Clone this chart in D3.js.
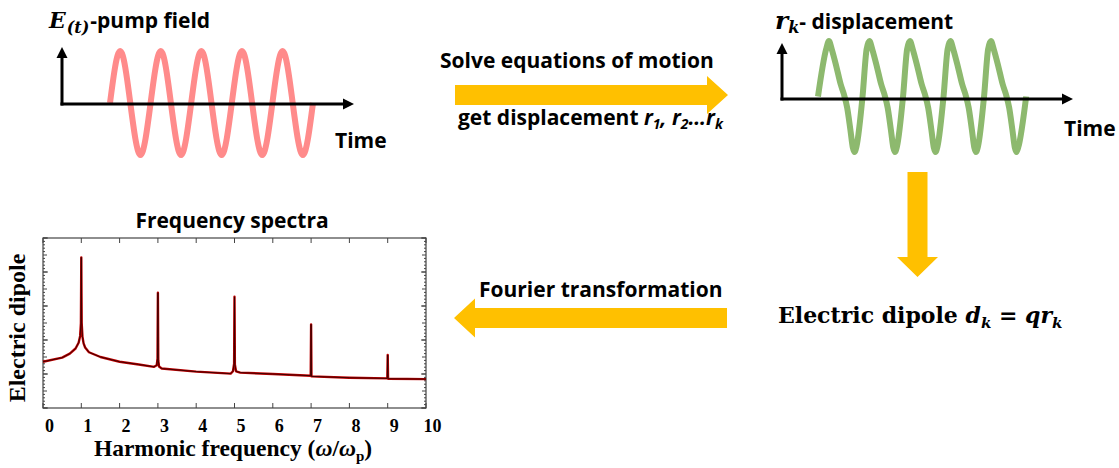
<!DOCTYPE html>
<html>
<head>
<meta charset="utf-8">
<script src="https://cdn.jsdelivr.net/npm/d3@7"></script>
<style>
  html, body { margin: 0; padding: 0; background: #fff; }
  svg { display: block; }
  .sans { font-family: "Open Sans", sans-serif; font-weight: 700; fill: #000; }
  .times { font-family: "Liberation Serif", "Times New Roman", serif; font-weight: 700; fill: #000; }
  .cambria { font-family: "DejaVu Serif", serif; font-weight: 700; fill: #000; }
</style>
</head>
<body>
<div id="chart"></div>
<script>
// spectrum: harmonic frequency (w/wp) and log10 of electric dipole amplitude
const freq = [0, 0.5, 0.7, 0.85, 0.93, 0.97, 0.99, 1.0, 1.01, 1.03, 1.06, 1.1, 1.2, 1.5, 2.0, 2.5,
    2.9, 2.97, 2.99, 3.0, 3.01, 3.03, 3.1, 4.0, 4.9, 4.96, 4.99, 5.0, 5.01, 5.04, 5.15, 6.0,
    6.99, 7.0, 7.01, 8.0, 8.99, 9.0, 9.01, 10];
const dipole = [-3.64, -3.52, -3.40, -3.25, -3.08, -2.88, -2.5, -0.57, -2.5, -2.9, -3.1, -3.22, -3.36, -3.5, -3.64, -3.72,
    -3.79, -3.74, -3.55, -1.61, -3.6, -3.78, -3.84, -3.93, -3.99, -3.92, -3.7, -1.73, -3.72, -3.92, -3.96, -4.0,
    -4.05, -2.54, -4.07, -4.11, -4.13, -3.44, -4.14, -4.15];
const freqTicks = [0, 1, 2, 3, 4, 5, 6, 7, 8, 9, 10];

// pump field sketch: time in periods, normalised field
const pumpTime = [0, 0.25, 0.5, 0.75, 1, 1.25, 1.5, 1.75, 2, 2.25, 2.5, 2.75, 3, 3.25, 3.5, 3.75, 4, 4.25, 4.5, 4.75, 5];
const pumpField = [0, 1, 0, -1, 0, 1, 0, -1, 0, 1, 0, -1, 0, 1, 0, -1, 0, 1, 0, -1, 0];

// displacement sketch: time in periods, normalised displacement
const dispTime = [0,
    0.2, 0.27, 0.34, 0.46, 0.56, 0.64, 0.72, 0.8, 0.86, 0.9, 0.95,
    1.1, 1.2, 1.27, 1.34, 1.46, 1.56, 1.64, 1.72, 1.8, 1.86, 1.9, 1.95,
    2.1, 2.2, 2.27, 2.34, 2.46, 2.56, 2.64, 2.72, 2.8, 2.86, 2.9, 2.95,
    3.1, 3.2, 3.27, 3.34, 3.46, 3.56, 3.64, 3.72, 3.8, 3.86, 3.9, 3.95,
    4.1, 4.2, 4.27, 4.34, 4.46, 4.56, 4.64, 4.72, 4.8, 4.86, 4.9, 4.95,
    5.14];
const dispValue = [0,
    0.85, 1, 0.85, 0.52, 0.22, 0.04, -0.2, -0.6, -0.92, -1, -0.9,
    0, 0.85, 1, 0.85, 0.52, 0.22, 0.04, -0.2, -0.6, -0.92, -1, -0.9,
    0, 0.85, 1, 0.85, 0.52, 0.22, 0.04, -0.2, -0.6, -0.92, -1, -0.9,
    0, 0.85, 1, 0.85, 0.52, 0.22, 0.04, -0.2, -0.6, -0.92, -1, -0.9,
    0, 0.85, 1, 0.85, 0.52, 0.22, 0.04, -0.2, -0.6, -0.92, -1, -0.9,
    0];

const width = 1119;
const height = 468;
const yellow = "#FFC000";

const svg = d3.select("#chart")
    .append("svg")
    .attr("width", width)
    .attr("height", height);

svg.append("rect").attr("width", width).attr("height", height).attr("fill", "#fff");

// black axis with a small arrow head
function axisArrow(x1, y1, x2, y2) {
    const ang = Math.atan2(y2 - y1, x2 - x1) * 180 / Math.PI;
    const len = Math.hypot(x2 - x1, y2 - y1);
    const g = svg.append("g").attr("transform", `translate(${x1},${y1}) rotate(${ang})`);
    g.append("line").attr("x1", 0).attr("y1", 0).attr("x2", len - 9).attr("y2", 0)
        .attr("stroke", "#000").attr("stroke-width", 3);
    g.append("path").attr("d", `M${len},0 L${len - 11},-5.5 L${len - 11},5.5 Z`).attr("fill", "#000");
}

// thick yellow block arrow
function blockArrow(x1, y1, x2, y2, shaftW, headW, headL) {
    const ang = Math.atan2(y2 - y1, x2 - x1) * 180 / Math.PI;
    const len = Math.hypot(x2 - x1, y2 - y1);
    const s = shaftW / 2, h = headW / 2, b = len - headL;
    svg.append("path")
        .attr("transform", `translate(${x1},${y1}) rotate(${ang})`)
        .attr("d", `M0,${-s} L${b},${-s} L${b},${-h} L${len},0 L${b},${h} L${b},${s} L0,${s} Z`)
        .attr("fill", yellow);
}

function addSpans(text, parts) {
    parts.forEach(p => {
        const t = text.append("tspan").text(p.t);
        if (p.cls) t.attr("class", p.cls);
        if (p.size) t.attr("font-size", p.size);
        if (p.italic) t.attr("font-style", "italic");
        if (p.dy) t.attr("dy", p.dy);
        if (p.dx) t.attr("dx", p.dx);
    });
}

// ---- pump field panel ----
const px = d3.scaleLinear().domain([0, 5]).range([110, 313]);
const py = d3.scaleLinear().domain([-1, 1]).range([155, 51]);
svg.append("path")
    .datum(pumpTime.map((t, i) => [t, pumpField[i]]))
    .attr("d", d3.line().x(d => px(d[0])).y(d => py(d[1])).curve(d3.curveNatural))
    .attr("fill", "none").attr("stroke", "#ff8b8b").attr("stroke-width", 6);
axisArrow(62, 105.5, 62, 47);
axisArrow(60.5, 104, 354, 104);

const t1 = svg.append("text").attr("x", 49).attr("y", 28);
addSpans(t1, [
    { t: "E", cls: "cambria", size: 22, italic: true },
    { t: "(t)", cls: "cambria", size: 16, italic: true, dy: 5, dx: 1 },
    { t: "-pump field", cls: "sans", size: 21, dy: -5, dx: 1 }
]);
svg.append("text").attr("class", "sans").attr("font-size", 21).attr("x", 335).attr("y", 148).text("Time");

// ---- displacement panel ----
const dx = d3.scaleLinear().domain([0, 5]).range([818, 1020.5]);
const dy = d3.scaleLinear().domain([-1, 1]).range([152, 41]);
svg.append("path")
    .datum(dispTime.map((t, i) => [t, dispValue[i]]))
    .attr("d", d3.line().x(d => dx(d[0])).y(d => dy(d[1])).curve(d3.curveMonotoneX))
    .attr("fill", "none").attr("stroke", "#8db96e").attr("stroke-width", 6);
axisArrow(782, 100.5, 782, 43);
axisArrow(780.5, 99, 1073, 99);

const t2 = svg.append("text").attr("x", 775).attr("y", 29);
addSpans(t2, [
    { t: "r", cls: "cambria", size: 25, italic: true },
    { t: "k", cls: "cambria", size: 16, italic: true, dy: 4 },
    { t: "- displacement", cls: "sans", size: 21, dy: -4 }
]);
svg.append("text").attr("class", "sans").attr("font-size", 21).attr("x", 1064).attr("y", 136).text("Time");

// ---- flow arrows ----
blockArrow(455, 95, 728, 95, 20, 38, 21);
blockArrow(917.5, 172, 917.5, 277, 20, 41, 20);
blockArrow(727, 318, 454, 318, 20, 39, 21);

svg.append("text").attr("class", "sans").attr("font-size", 21).attr("x", 440).attr("y", 68)
    .text("Solve equations of motion");
const t3 = svg.append("text").attr("class", "sans").attr("font-size", 21).attr("x", 458).attr("y", 125);
addSpans(t3, [
    { t: "get displacement " },
    { t: "r", italic: true },
    { t: "1", italic: true, size: 14, dy: 4 },
    { t: ", ", italic: true, dy: -4 },
    { t: "r", italic: true },
    { t: "2", italic: true, size: 14, dy: 4 },
    { t: "…", italic: true, dy: -4 },
    { t: "r", italic: true },
    { t: "k", italic: true, size: 14, dy: 4 }
]);
svg.append("text").attr("class", "sans").attr("font-size", 21).attr("x", 479).attr("y", 297)
    .text("Fourier transformation");

const t4 = svg.append("text").attr("class", "cambria").attr("font-size", 22).attr("x", 778).attr("y", 323);
addSpans(t4, [
    { t: "Electric dipole " },
    { t: "d", italic: true },
    { t: "k", italic: true, size: 15, dy: 5 },
    { t: " = ", dy: -5 },
    { t: "q", italic: true },
    { t: "r", italic: true },
    { t: "k", italic: true, size: 15, dy: 5 }
]);

// ---- frequency spectra plot ----
const x = d3.scaleLinear().domain([0, 10]).range([43, 426]);
const y = d3.scaleLinear().domain([-5, 0]).range([408, 238]);

const plot = svg.append("g");
const frameColor = "#444";
plot.append("rect")
    .attr("x", x(0)).attr("y", y(0))
    .attr("width", x(10) - x(0)).attr("height", y(-5) - y(0))
    .attr("fill", "none").attr("stroke", frameColor).attr("stroke-width", 1.2);

const yMinor = d3.range(-5, 0.001, 0.1);
const yMajor = d3.range(-5, 0.001, 1);
[x(0), x(10)].forEach((xx, side) => {
    const dir = side === 0 ? 1 : -1;
    plot.selectAll(null).data(yMinor).enter().append("line")
        .attr("x1", xx).attr("x2", d => xx + dir * (Math.abs(d * 2 - Math.round(d * 2)) < 0.01 ? 4 : 2))
        .attr("y1", d => y(d)).attr("y2", d => y(d))
        .attr("stroke", frameColor).attr("stroke-width", 1);
    plot.selectAll(null).data(yMajor).enter().append("line")
        .attr("x1", xx).attr("x2", xx + dir * 5)
        .attr("y1", d => y(d)).attr("y2", d => y(d))
        .attr("stroke", frameColor).attr("stroke-width", 1);
});
[y(-5), y(0)].forEach((yy, side) => {
    const dir = side === 0 ? -1 : 1;
    plot.selectAll(null).data(freqTicks).enter().append("line")
        .attr("x1", d => x(d)).attr("x2", d => x(d))
        .attr("y1", yy).attr("y2", yy + dir * 5)
        .attr("stroke", frameColor).attr("stroke-width", 1);
});

const xLabels = d3.axisBottom(x).tickValues(freqTicks).tickSize(0).tickPadding(0);
const xl = plot.append("g").attr("transform", "translate(6,418)").call(xLabels);
xl.select(".domain").remove();
xl.selectAll("text").attr("class", "times").attr("font-size", 18).attr("dy", 0).attr("y", 14);

const spec = freq.map((f, i) => [f, dipole[i]]);
const specLine = d3.line().x(d => x(d[0])).y(d => y(d[1]));
plot.append("path").datum(spec).attr("d", specLine)
    .attr("fill", "none").attr("stroke", "#c00000").attr("stroke-width", 2.4).attr("stroke-linejoin", "round");
plot.append("path").datum(spec).attr("d", specLine)
    .attr("fill", "none").attr("stroke", "#300000").attr("stroke-width", 0.9);

svg.append("text").attr("class", "sans").attr("font-size", 21).attr("text-anchor", "middle")
    .attr("x", 232).attr("y", 228).text("Frequency spectra");

svg.append("text").attr("class", "times").attr("font-size", 24).attr("text-anchor", "middle")
    .attr("transform", "translate(25,328) rotate(-90)").text("Electric dipole");

const t5 = svg.append("text").attr("class", "times").attr("font-size", 23.5).attr("text-anchor", "middle")
    .attr("x", 233).attr("y", 456);
addSpans(t5, [
    { t: "Harmonic frequency (" },
    { t: "ω", italic: true },
    { t: "/" },
    { t: "ω", italic: true },
    { t: "p", size: 15, dy: 5 },
    { t: ")", dy: -5 }
]);
</script>
</body>
</html>
